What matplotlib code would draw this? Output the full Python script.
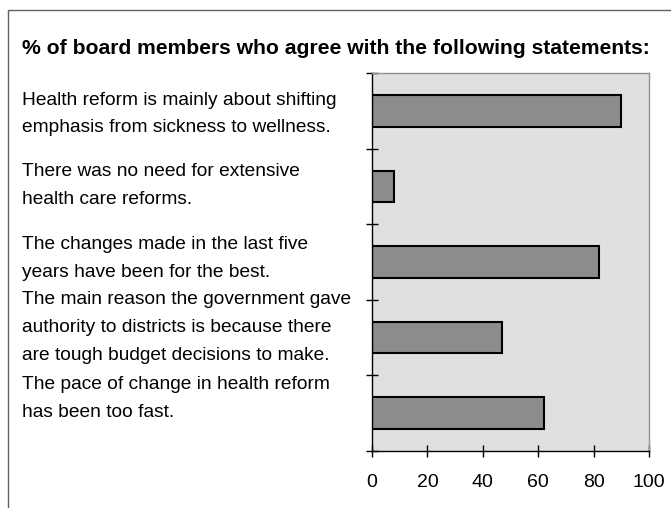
import matplotlib
matplotlib.use("Agg")
import matplotlib.pyplot as plt
from matplotlib.patches import Rectangle

plt.rcParams['font.family'] = ['Liberation Sans', 'DejaVu Sans']

# --- Survey data ---
title = "% of board members who agree with the following statements:"
statements = [
    "Health reform is mainly about shifting\nemphasis from sickness to wellness.",
    "There was no need for extensive\nhealth care reforms.",
    "The changes made in the last five\nyears have been for the best.",
    "The main reason the government gave\nauthority to districts is because there\nare tough budget decisions to make.",
    "The pace of change in health reform\nhas been too fast.",
]
agree_pct = [90, 8, 82, 47, 62]
x_ticks = [0, 20, 40, 60, 80, 100]

W, H = 671, 508
fig = plt.figure(figsize=(W / 100, H / 100), dpi=100)

def fx(px):
    return px / W

def fy(py):
    return 1 - py / H

# outer frame (runs off the right and bottom edges)
fig.patches.append(Rectangle((fx(8), fy(H + 20)), fx(W + 20), fy(10) - fy(H + 20),
                             transform=fig.transFigure, fill=False,
                             edgecolor='#606060', linewidth=1.0))

fig.text(fx(22), fy(48), title, fontsize=15.2, fontweight='bold',
         ha='left', va='center')

ax = fig.add_axes([fx(372), fy(451), fx(649) - fx(372), fy(73) - fy(451)])
ax.set_facecolor('#e0e0e0')

pos = list(range(len(agree_pct)))
ax.barh(pos, agree_pct, height=0.42, color='#8c8c8c', edgecolor='black',
        linewidth=1.5)
ax.set_ylim(len(pos) - 0.5, -0.5)
ax.set_xlim(0, 100)

ax.set_xticks(x_ticks)
ax.set_xticklabels([str(t) for t in x_ticks], fontsize=14)
ax.set_yticks([p - 0.5 for p in range(len(pos) + 1)])
ax.set_yticklabels([])
ax.tick_params(axis='x', direction='inout', length=9, width=1, pad=12)
ax.tick_params(axis='y', direction='inout', length=8, width=1)

for side in ['left', 'bottom']:
    ax.spines[side].set_color('black')
    ax.spines[side].set_linewidth(1.0)
for side in ['top', 'right']:
    ax.spines[side].set_color('#909090')
    ax.spines[side].set_linewidth(1.0)

# statement text to the left of the bars, one line at a time
line_gap = 27.5
centers = [114, 185.5, 258.5, 327.5, 398.5]
for text, cy in zip(statements, centers):
    lines = text.split('\n')
    n = len(lines)
    for i, line in enumerate(lines):
        y = cy + (i - (n - 1) / 2) * line_gap
        fig.text(fx(22), fy(y), line, fontsize=13.8, ha='left', va='center')

fig.savefig('out.png', dpi=100)
